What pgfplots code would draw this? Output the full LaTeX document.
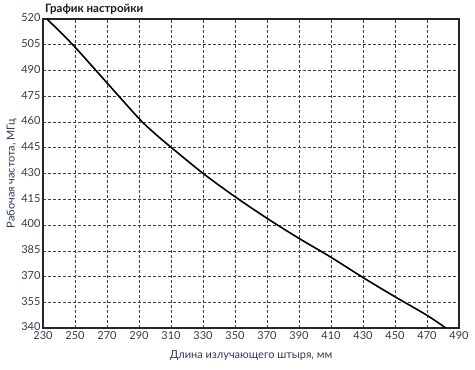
\documentclass[border=0pt]{standalone}
\usepackage{fontspec}
\setmainfont{Lato}
\usepackage{pgfplots}
\pgfplotsset{compat=1.18}
\definecolor{tickc}{HTML}{2E3B4E}
\begin{document}
\begin{tikzpicture}
\begin{axis}[
  scale only axis, width=416pt, height=309pt,
  xmin=230, xmax=490, ymin=340, ymax=520,
  xtick={230,250,...,490}, ytick={340,355,...,520},
  major tick length=0pt,
  grid=major,
  major grid style={densely dashed, black!75, line width=0.5pt},
  axis line style={black!85, line width=1.2pt},
  /pgf/number format/assume math mode=true,
  ticklabel style={font=\fontsize{11}{13}\selectfont, text=tickc},
  xticklabel style={yshift=0pt},
  yticklabel style={xshift=1pt, yshift=1pt},
  xlabel={Длина излучающего штыря, мм},
  ylabel={Рабочая частота, МГц},
  label style={font=\fontsize{11}{13}\selectfont, text=tickc},
  xlabel style={yshift=-4pt},
  ylabel style={yshift=-2pt},
]
\addplot[black, line width=1.6pt, smooth, tension=0.5] coordinates {
(232.5,520) (249,504.6) (270,482.8) (290,462) (300,453.2) (310,445.3) (330,430.1) (350,416.5) (370,403.9) (390,392.2) (410,381.2) (430,369.4) (450,358.2) (470,347.4) (481.7,340)
};
\coordinate (sw) at (rel axis cs:0,0);
\coordinate (ne) at (rel axis cs:1,1);
\coordinate (nw) at (rel axis cs:0,1);
\end{axis}
\node[anchor=south west, font=\bfseries\fontsize{11.5}{13}\selectfont, inner sep=0pt, text=black!90] at ([xshift=2pt,yshift=4pt]nw) {График настройки};
\pgfresetboundingbox
\useasboundingbox ([shift={(-43pt,-41pt)}]sw) rectangle ([shift={(16pt,19pt)}]ne);
\end{tikzpicture}
\end{document}
